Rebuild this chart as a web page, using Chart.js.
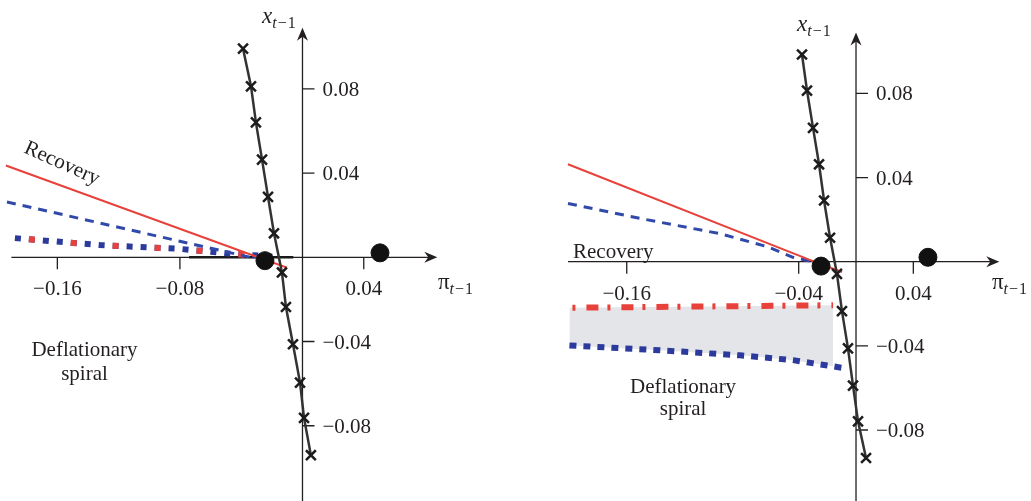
<!DOCTYPE html>
<html>
<head>
<meta charset="utf-8">
<script src="https://cdn.jsdelivr.net/npm/chart.js@4.4.1/dist/chart.umd.min.js"></script>
<style>
  html, body { margin: 0; padding: 0; background: #fff; }
  #wrap { position: relative; width: 1031px; height: 501px; overflow: hidden; }
  canvas { position: absolute; top: 0; }
  #left { left: 0; }
  #right { left: 515px; }
</style>
</head>
<body>
<div id="wrap">
  <canvas id="left" width="515" height="501"></canvas>
  <canvas id="right" width="516" height="501"></canvas>
</div>
<script>
// tick values
const yTicks = [0.08, 0.04, -0.04, -0.08];
const leftXTicks = [-0.16, -0.08, 0.04];
const rightXTicks = [-0.16, -0.04, 0.04];

// left panel
const leftPathX = [-0.0388, -0.0336, -0.0304, -0.0264, -0.0225, -0.0186, -0.0134, -0.0108, -0.0062, -0.0016, 0.0010, 0.0055];
const leftPathY = [0.0991, 0.0812, 0.0641, 0.0464, 0.0287, 0.0114, -0.0072, -0.0236, -0.0413, -0.0595, -0.0763, -0.0940];
const leftSolidX = [-0.1936, -0.029, -0.0101];
const leftSolidY = [0.0436, 0.0, -0.0049];
const leftDashX = [-0.1929, -0.034];
const leftDashY = [0.0263, 0.0];
const leftDotX = [-0.1877, -0.1322, -0.080, -0.0454, -0.0166];
const leftDotY = [0.0091, 0.0058, 0.0040, 0.0016, 0.0002];
const leftFlatX = [-0.074, -0.006];
const leftFlatY = [0, 0];
const leftSteadyX = [-0.0245, 0.0506];
const leftSteadyY = [-0.0016, 0.0021];

// right panel
const rightPathX = [-0.0377, -0.0342, -0.0300, -0.0258, -0.0223, -0.0181, -0.0133, -0.0098, -0.0056, -0.0021, 0.0014, 0.0070];
const rightPathY = [0.0985, 0.0813, 0.0636, 0.0463, 0.0291, 0.0114, -0.0058, -0.0235, -0.0412, -0.0589, -0.0759, -0.0933];
const rightSolidX = [-0.201, -0.0265, -0.0098];
const rightSolidY = [0.0463, -0.0007, -0.0049];
const rightDashX = [-0.201, -0.1486, -0.0949, -0.0621, -0.044, -0.0286];
const rightDashY = [0.0277, 0.0203, 0.0133, 0.0072, 0.0021, -0.0002];
const rightDashDotX = [-0.200, -0.016];
const rightDashDotY = [-0.0219, -0.0207];
const rightDotX = [-0.200, -0.1368, -0.081, -0.044, -0.009];
const rightDotY = [-0.0398, -0.0421, -0.0445, -0.0468, -0.0505];
const rightSteadyX = [-0.0244, 0.0502];
const rightSteadyY = [-0.0021, 0.0021];

const RED = "#e8413b";
const BLUE = "#2b3a9c";
const DASHBLUE = "#3149a8";
const INK = "#231f20";
const SERIF = "'Liberation Serif', 'DejaVu Serif', serif";

const pts = (xs, ys) => xs.map((x, i) => ({ x: x, y: ys[i] }));
const fmt = v => (v < 0 ? "\u2212" : "") + Math.abs(v).toFixed(2);

function drawSub(ctx, x, y, main, italicMain, size) {
    ctx.textAlign = "left";
    ctx.textBaseline = "alphabetic";
    ctx.font = (italicMain ? "italic " : "") + size + "px " + SERIF;
    ctx.fillText(main, x, y);
    x += ctx.measureText(main).width;
    const s = Math.round(size * 0.7);
    ctx.font = "italic " + s + "px " + SERIF;
    ctx.fillText("t", x, y + 5);
    x += ctx.measureText("t").width + 1;
    ctx.font = s + "px " + SERIF;
    ctx.fillText("\u2212", x, y + 5);
    x += ctx.measureText("\u2212").width + 1;
    ctx.fillText("1", x, y + 5);
}

function arrow(ctx, x, y, dir) {
    ctx.beginPath();
    if (dir === "right") {
        ctx.moveTo(x, y);
        ctx.lineTo(x - 13, y - 5.5);
        ctx.lineTo(x - 9, y);
        ctx.lineTo(x - 13, y + 5.5);
    } else {
        ctx.moveTo(x, y);
        ctx.lineTo(x - 5.5, y + 13);
        ctx.lineTo(x, y + 9);
        ctx.lineTo(x + 5.5, y + 13);
    }
    ctx.closePath();
    ctx.fill();
}

const crossAxes = {
    id: "crossAxes",
    beforeDatasetsDraw(chart, args, opts) {
        const ctx = chart.ctx;
        const xs = chart.scales.x;
        const ys = chart.scales.y;
        const x0 = xs.getPixelForValue(0);
        const y0 = ys.getPixelForValue(0);
        const xStart = xs.getPixelForValue(xs.min);
        const xEnd = xs.getPixelForValue(xs.max);
        const yEnd = ys.getPixelForValue(ys.max);

        ctx.save();
        ctx.strokeStyle = INK;
        ctx.fillStyle = INK;
        ctx.lineWidth = 1.3;

        ctx.beginPath();
        ctx.moveTo(xStart, y0);
        ctx.lineTo(xEnd - 8, y0);
        ctx.moveTo(x0, chart.height);
        ctx.lineTo(x0, yEnd + 8);

        opts.xTicks.forEach(v => {
            const p = xs.getPixelForValue(v);
            ctx.moveTo(p, y0);
            ctx.lineTo(p, y0 + 12);
        });
        opts.yTicks.forEach(v => {
            const p = ys.getPixelForValue(v);
            ctx.moveTo(x0, p);
            ctx.lineTo(x0 + 12, p);
        });
        ctx.stroke();

        arrow(ctx, xEnd, y0, "right");
        arrow(ctx, x0, yEnd, "up");

        ctx.font = "21px " + SERIF;
        ctx.textBaseline = "alphabetic";
        ctx.textAlign = "center";
        opts.xTicks.forEach(v => {
            ctx.fillText(fmt(v), xs.getPixelForValue(v), y0 + 38);
        });
        ctx.textAlign = "left";
        opts.yTicks.forEach(v => {
            ctx.fillText(fmt(v), x0 + 20, ys.getPixelForValue(v) + 7);
        });

        // axis titles
        const xt = opts.xTitle;
        drawSub(ctx, xs.getPixelForValue(xt[0]), ys.getPixelForValue(xt[1]), "x", true, 23);
        const pt = opts.piTitle;
        drawSub(ctx, xs.getPixelForValue(pt[0]), ys.getPixelForValue(pt[1]), "\u03c0", false, 23);

        // region notes
        opts.notes.forEach(n => {
            ctx.save();
            ctx.font = "21px " + SERIF;
            ctx.textAlign = n.align;
            ctx.textBaseline = n.rotate ? "middle" : "alphabetic";
            ctx.translate(xs.getPixelForValue(n.x), ys.getPixelForValue(n.y));
            if (n.rotate)
                ctx.rotate(n.rotate * Math.PI / 180);
            ctx.fillText(n.text, 0, 0);
            ctx.restore();
        });

        ctx.restore();
    }
};

function pathSet(xs, ys) {
    return {
        data: pts(xs, ys),
        showLine: true,
        borderColor: "#333",
        borderWidth: 2.5,
        pointStyle: "crossRot",
        pointRadius: 7,
        pointBorderWidth: 2.5,
        pointBorderColor: "#1c1c1c",
        pointBackgroundColor: "#1c1c1c",
        clip: false
    };
}

function lineSet(xs, ys, color, width, dash, offset) {
    return {
        data: pts(xs, ys),
        showLine: true,
        borderColor: color,
        borderWidth: width,
        borderDash: dash,
        borderDashOffset: offset || 0,
        borderCapStyle: "butt",
        pointRadius: 0,
        clip: false
    };
}

function steadySet(xs, ys) {
    return {
        data: pts(xs, ys),
        showLine: false,
        pointRadius: 9,
        pointBackgroundColor: "#111",
        pointBorderColor: "#111",
        clip: false
    };
}

function makeChart(id, datasets, xRange, yRange, padding, axesOpts) {
    return new Chart(document.getElementById(id), {
        type: "scatter",
        data: { datasets: datasets },
        options: {
            responsive: false,
            animation: false,
            devicePixelRatio: 1,
            layout: { padding: padding },
            elements: { line: { tension: 0 } },
            plugins: {
                legend: { display: false },
                tooltip: { enabled: false },
                filler: { drawTime: "beforeDatasetsDraw" },
                crossAxes: axesOpts
            },
            scales: {
                x: { type: "linear", display: false, min: xRange[0], max: xRange[1] },
                y: { type: "linear", display: false, min: yRange[0], max: yRange[1] }
            }
        },
        plugins: [crossAxes]
    });
}

makeChart("left", [
    steadySet(leftSteadyX, leftSteadyY),
    pathSet(leftPathX, leftPathY),
    lineSet(leftSolidX, leftSolidY, RED, 2, []),
    lineSet(leftDashX, leftDashY, DASHBLUE, 3, [9, 7]),
    lineSet(leftDotX, leftDotY, RED, 6, [6, 36], -14),
    lineSet(leftDotX, leftDotY, BLUE, 6, [6, 8]),
    lineSet(leftFlatX, leftFlatY, "#1a1a1a", 2.5, [])
], [-0.19, 0.088], [-0.111, 0.109],
{ left: 11.4, right: 77.7, top: 27.8, bottom: 1.5 },
{
    xTicks: leftXTicks,
    yTicks: yTicks,
    xTitle: [-0.0264, 0.1112],
    piTitle: [0.0884, -0.0152],
    notes: [
        { text: "Recovery", x: -0.157, y: 0.0445, align: "center", rotate: 24 },
        { text: "Deflationary", x: -0.1423, y: -0.0469, align: "center" },
        { text: "spiral", x: -0.1423, y: -0.0581, align: "center" }
    ]
});

makeChart("right", [
    steadySet(rightSteadyX, rightSteadyY),
    pathSet(rightPathX, rightPathY),
    lineSet(rightSolidX, rightSolidY, RED, 2, []),
    lineSet(rightDashX, rightDashY, DASHBLUE, 3, [9, 7]),
    Object.assign(lineSet(rightDashDotX, rightDashDotY, RED, 6, [12, 9, 3, 11], 18),
        { fill: { target: 5 }, backgroundColor: "#e4e5e8" }),
    lineSet(rightDotX, rightDotY, BLUE, 6, [7, 7])
], [-0.201, 0.1], [-0.109, 0.109],
{ left: 53.0, right: 31.7, top: 32.4, bottom: 0.4 },
{
    xTicks: rightXTicks,
    yTicks: yTicks,
    xTitle: [-0.0412, 0.1097],
    piTitle: [0.0949, -0.0128],
    notes: [
        { text: "Recovery", x: -0.1975, y: 0.0016, align: "left" },
        { text: "Deflationary", x: -0.1207, y: -0.0626, align: "center" },
        { text: "spiral", x: -0.1207, y: -0.0728, align: "center" }
    ]
});
</script>
</body>
</html>
